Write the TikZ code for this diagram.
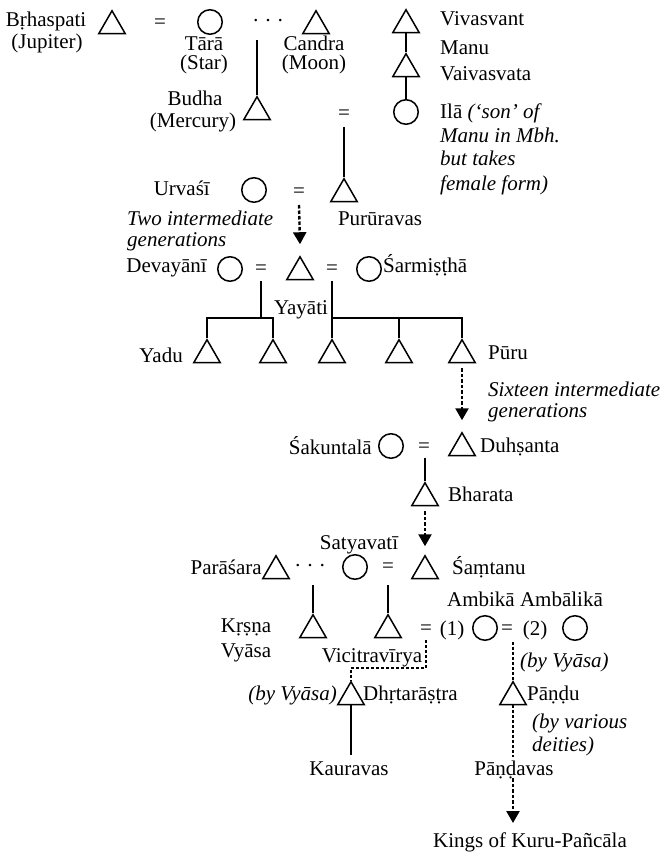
\documentclass[tikz,border=0pt]{standalone}
\usepackage{fontspec}
\setmainfont{Liberation Serif}
\usetikzlibrary{shapes.geometric,arrows.meta}
\begin{document}
\begin{tikzpicture}[x=1pt,y=-1pt,
  lbl/.style={inner sep=0pt, font=\fontsize{21}{24}\selectfont},
  tri/.style={draw, regular polygon, regular polygon sides=3, minimum size=30.5pt, inner sep=0pt, line width=1.5pt},
  circ/.style={draw, circle, minimum size=24.5pt, inner sep=0pt, line width=1.5pt},
  kin/.style={line width=1.5pt},
  gen/.style={line width=2.4pt, dash pattern=on 3.5pt off 2pt, -{Triangle[width=13pt,length=12pt]}},
  dline/.style={line width=1.1pt, dash pattern=on 3pt off 2pt}]
\useasboundingbox (0,0) rectangle (664,853);

% ---------- top rows ----------
\node[lbl, anchor=base] (bri) at (46,27) {Bṛhaspati};
\node[lbl, anchor=base] (jup) at (47,49) {(Jupiter)};
\node[tri] (tb) at (112,26) {};
\node[lbl] (e1) at (160,24) {=};
\node[circ] (ctara) at (210,22) {};
\node[lbl] (d1) at (268,23) {· · ·};
\node[tri] (tc) at (316,26) {};
\node[lbl, anchor=base] (tara) at (204,51) {Tārā};
\node[lbl, anchor=base] (star) at (204,70) {(Star)};
\node[lbl, anchor=base] (candra) at (314,51) {Candra};
\node[lbl, anchor=base] (moon) at (314,70) {(Moon)};

\node[tri] (tv) at (406,25) {};
\node[lbl, anchor=base west] (viv) at (440,26) {Vivasvant};
\node[tri] (tm) at (406,69) {};
\node[lbl, anchor=base west] (manu) at (440,55) {Manu};
\node[lbl, anchor=base west] (vaiv) at (440,81) {Vaivasvata};
\node[circ] (cila) at (406,112) {};
\node[lbl, anchor=base west] (ila1) at (440,119) {Ilā \textit{(‘son’ of}};
\node[lbl, anchor=base west] (ila2) at (440,143) {\textit{Manu in Mbh.}};
\node[lbl, anchor=base west] (ila3) at (440,166) {\textit{but takes}};
\node[lbl, anchor=base west] (ila4) at (440,190) {\textit{female form)}};

\coordinate (dtop) at (257,40);
\node[tri] (tbud) at (257,112) {};
\node[lbl, anchor=base] (budha) at (195,106) {Budha};
\node[lbl, anchor=base] (merc) at (193,128) {(Mercury)};
\node[lbl] (e2) at (344,115) {=};
\coordinate (e2b) at (344,127);

\draw[kin] (dtop) -- (tbud.corner 1);
\draw[kin] (tv.side 2) -- (tm.corner 1);
\draw[kin] (tm.side 2) -- (cila.north);

% ---------- Pururavas ----------
\node[lbl, anchor=base east] (urv) at (210,196) {Urvaśī};
\node[circ] (curv) at (254,190) {};
\node[lbl] (e3) at (299,193) {=};
\node[tri] (tp) at (344,194) {};
\node[lbl, anchor=base] (pur) at (380,225) {Purūravas};
\node[lbl, anchor=base west] (two1) at (127,225) {\textit{Two intermediate}};
\node[lbl, anchor=base west] (two2) at (127,246) {\textit{generations}};
\draw[kin] (e2b) -- (tp.corner 1);

% ---------- Yayati ----------
\node[lbl, anchor=base east] (dev) at (207,272) {Devayānī};
\node[circ] (cdev) at (230,269) {};
\node[lbl] (e4) at (261,270) {=};
\node[tri] (ty) at (300,272) {};
\node[lbl] (e5) at (332,270) {=};
\node[circ] (csar) at (369,269) {};
\node[lbl, anchor=base west] (sar) at (383,272) {Śarmiṣṭhā};
\node[lbl, anchor=base] (yay) at (301,314) {Yayāti};
\coordinate (e3b) at (299,205);
\draw[gen] (e3b) -- ([yshift=11pt]ty.corner 1);

\coordinate (e4b) at (261,281);
\coordinate (e5b) at (332,281);
\coordinate (barL) at (261,318);
\coordinate (barR) at (332,318);
\node[tri] (k1) at (207,355) {};
\node[tri] (k2) at (273,355) {};
\node[tri] (k3) at (332,355) {};
\node[tri] (k4) at (399,355) {};
\node[tri] (k5) at (462,355) {};
\node[lbl, anchor=base east] (yadu) at (183,362) {Yadu};
\node[lbl, anchor=base west] (puru) at (488,359) {Pūru};
\draw[kin] (e4b) -- (barL);
\draw[kin] (k1.corner 1) -- (k1.corner 1 |- barL) -- (k2.corner 1 |- barL) -- (k2.corner 1);
\draw[kin] (e5b) -- (barR);
\draw[kin] (k3.corner 1) -- (k3.corner 1 |- barR) -- (k5.corner 1 |- barR) -- (k5.corner 1);
\draw[kin] (k4.corner 1) -- (k4.corner 1 |- barR);

\node[lbl, anchor=base west] (six1) at (488,396) {\textit{Sixteen intermediate}};
\node[lbl, anchor=base west] (six2) at (488,417) {\textit{generations}};

% ---------- Sakuntala ----------
\node[lbl, anchor=base east] (sak) at (372,454) {Śakuntalā};
\node[circ] (csak) at (391,446) {};
\node[lbl] (e6) at (424,448) {=};
\node[tri] (td) at (462,448) {};
\node[lbl, anchor=base west] (duh) at (480,452) {Duhṣanta};
\draw[gen] ([yshift=-5pt]k5.side 2) -- ([yshift=11pt]td.corner 1);
\coordinate (e6b) at (425,458);
\node[tri] (tbh) at (425,498) {};
\node[lbl, anchor=base west] (bha) at (448,501) {Bharata};
\draw[kin] (e6b) -- (tbh.corner 1);

% ---------- Santanu ----------
\node[lbl, anchor=base] (saty) at (359,549) {Satyavatī};
\node[lbl, anchor=base east] (par) at (262,574) {Parāśara};
\node[tri] (tpar) at (276,571) {};
\node[lbl] (d2) at (310,568) {· · ·};
\node[circ] (csat) at (355,567) {};
\node[lbl] (e7) at (388,568) {=};
\node[tri] (ts) at (425,571) {};
\node[lbl, anchor=base west] (sam) at (452,574) {Śaṃtanu};
\draw[gen] ([yshift=-5pt]tbh.side 2) -- ([yshift=8pt]ts.corner 1);

\coordinate (d2b) at (313,585);
\coordinate (e7b) at (388,585);
\node[tri] (tvy) at (313,630) {};
\node[tri] (tvic) at (388,630) {};
\draw[kin] (d2b) -- (tvy.corner 1);
\draw[kin] (e7b) -- (tvic.corner 1);
\node[lbl, anchor=base] (krs) at (246,632) {Kṛṣṇa};
\node[lbl, anchor=base] (vya) at (246,657) {Vyāsa};
\node[lbl, anchor=base] (vic) at (372,662) {Vicitravīrya};

\node[lbl, anchor=base] (amb) at (525,606) {Ambikā Ambālikā};
\node[lbl] (e8) at (426,630) {=};
\node[lbl, anchor=base] (n1) at (452,635) {(1)};
\node[circ] (camb) at (485,628) {};
\node[lbl] (e9) at (507,630) {=};
\node[lbl, anchor=base] (n2) at (535,635) {(2)};
\node[circ] (cambl) at (575,628) {};

% ---------- Kauravas / Pandavas ----------
\node[tri] (tdh) at (351,697) {};
\node[tri] (tpa) at (513,697) {};
\node[lbl, anchor=base east] (byv1) at (337,700) {\textit{(by Vyāsa)}};
\node[lbl, anchor=base west] (dhr) at (363,700) {Dhṛtarāṣṭra};
\node[lbl, anchor=base west] (pan) at (527,700) {Pāṇḍu};
\node[lbl, anchor=base west] (byv2) at (520,667) {\textit{(by Vyāsa)}};
\node[lbl, anchor=base west] (byva1) at (532,728) {\textit{(by various}};
\node[lbl, anchor=base west] (byva2) at (532,751) {\textit{deities)}};
\node[lbl, anchor=base] (kau) at (349,775) {Kauravas};
\node[lbl, anchor=base] (pnd) at (514,775) {Pāṇḍavas};
\node[lbl, anchor=base west] (kings) at (433,847) {Kings of Kuru-Pañcāla};

\coordinate (e8b) at (426,640);
\coordinate (vj) at (426,668);
\coordinate (e9b) at (513,642);
\draw[dline] (e8b) -- (vj) -- (vj -| tdh.corner 1) -- (tdh.corner 1);
\draw[dline] (e9b) -- (tpa.corner 1);
\draw[kin] (tdh.side 2) -- (tdh.side 2 |- 0,755);
\draw[dline] (tpa.side 2) -- (tpa.side 2 |- 0,757);
\draw[gen] (tpa.side 2 |- 0,778) -- (tpa.side 2 |- 0,823);
\end{tikzpicture}
\end{document}
